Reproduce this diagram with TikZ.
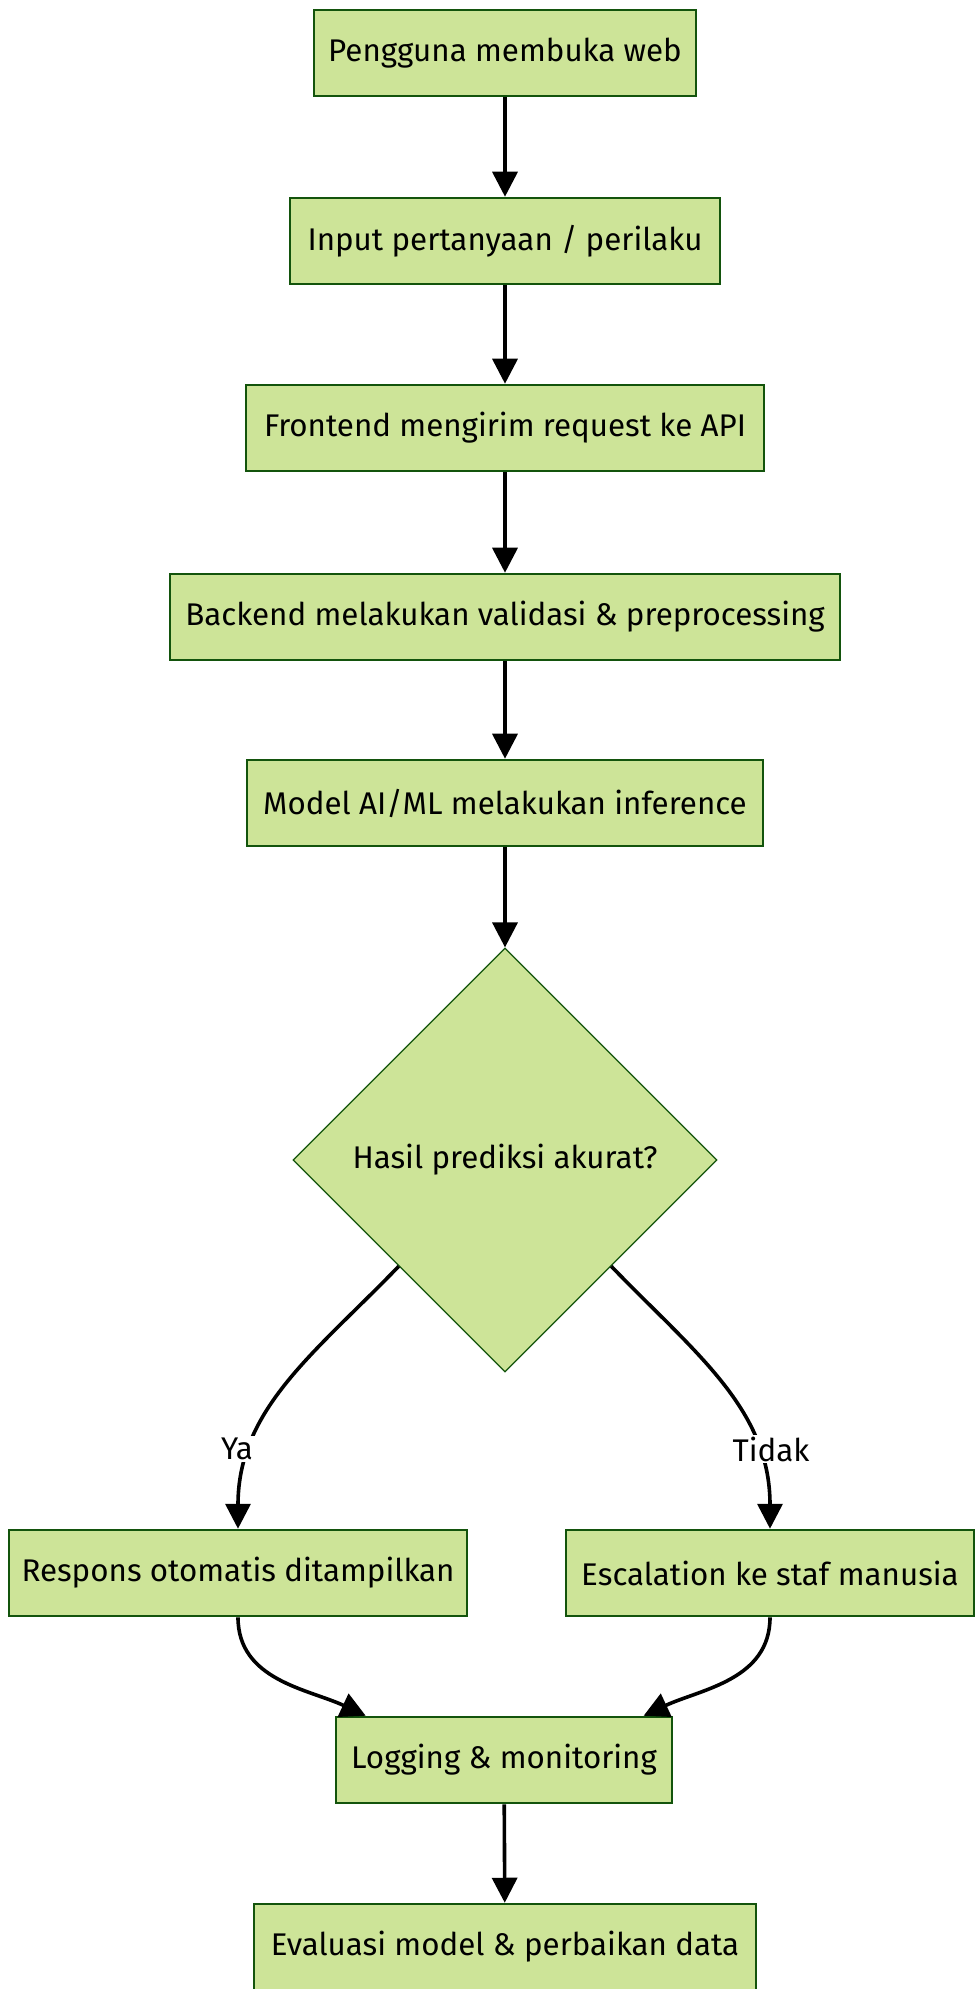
\documentclass[tikz,border=0pt]{standalone}
\usepackage{fontspec}
\setmainfont{Fira Sans}
\usetikzlibrary{shapes.geometric}
\usetikzlibrary{arrows.meta}
\definecolor{boxfill}{HTML}{CDE498}
\definecolor{boxline}{HTML}{13540C}
\tikzset{
  labelfont/.style={font=\fontsize{23.5}{28}\selectfont},
  stepbox/.style={draw=boxline,fill=boxfill,line width=1.4pt,minimum height=65pt,inner sep=0pt,labelfont},
  decbox/.style={diamond,aspect=1,draw=boxline,fill=boxfill,line width=0.9pt,minimum width=318pt,minimum height=318pt,inner sep=0pt,labelfont},
  flow/.style={line width=2.7pt,-{Triangle[length=18.75pt,width=18.75pt]}},
  choice/.style={fill=white,inner sep=1.5pt,labelfont}
}

\begin{document}
\begin{tikzpicture}[x=0.75pt,y=-0.75pt]
            \useasboundingbox (0,0) rectangle (978,1989);

            \node[stepbox,minimum width=287pt](open) at (505,53){Pengguna membuka web};
            \node[stepbox,minimum width=322pt](input) at (505,241){Input pertanyaan / perilaku};
            \node[stepbox,minimum width=389pt](front) at (505,428){Frontend mengirim request ke API};
            \node[stepbox,minimum width=503pt](back) at (505,617){Backend melakukan validasi \& preprocessing};
            \node[stepbox,minimum width=387pt](infer) at (505,803){Model AI/ML melakukan inference};
            \node[decbox](check) at (505,1160){Hasil prediksi akurat?};
            \node[stepbox,minimum width=344pt](auto) at (238,1573){Respons otomatis ditampilkan};
            \node[stepbox,minimum width=306pt](staff) at (770,1573){Escalation ke staf manusia};
            \node[stepbox,minimum width=252pt](log) at (504,1760){Logging \& monitoring};
            \node[stepbox,minimum width=376pt](eval) at (505,1947){Evaluasi model \& perbaikan data};

            \foreach \a/\b in{open/input,input/front,front/back,back/infer,infer/check,log/eval}{
            \draw[flow](\a)--(\b);
            }

            \draw[flow](check.south west) to[out=-134,in=90] (auto.north);
            \draw[flow](check.south east) to[out=-46,in=90] (staff.north);
            \node[choice](yes) at (237,1449){Ya};
            \node[choice](no) at (771,1449){Tidak};

            \coordinate(logleft) at ([xshift=23pt]log.north west);
            \coordinate(logright) at ([xshift=-22pt]log.north east);
            \draw[flow](auto.south) to[out=-90,in=155] (logleft);
            \draw[flow](staff.south) to[out=-90,in=25] (logright);

        \end{tikzpicture}
\end{document}
